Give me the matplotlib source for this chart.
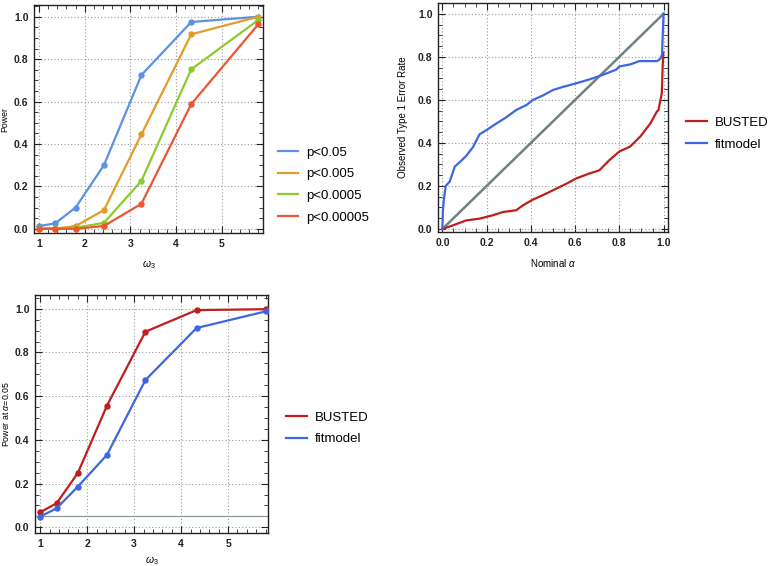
import matplotlib
matplotlib.use("Agg")
import matplotlib.pyplot as plt
from matplotlib.ticker import MultipleLocator
from matplotlib.lines import Line2D

plt.rcParams['font.family'] = ['Liberation Sans', 'DejaVu Sans']
plt.rcParams['mathtext.fontset'] = 'custom'
plt.rcParams['mathtext.it'] = 'Liberation Sans:italic'
plt.rcParams['mathtext.rm'] = 'Liberation Sans'

# ---------------- data ----------------
omega = [1.0, 1.35, 1.8, 2.42, 3.24, 4.33, 5.8]
omega_ticks = [1, 2, 3, 4, 5]
unit_ticks = [0.0, 0.2, 0.4, 0.6, 0.8, 1.0]

power_labels = ["p<0.05", "p<0.005", "p<0.0005", "p<0.00005"]
power_p05 = [0.013, 0.025, 0.10, 0.30, 0.725, 0.975, 1.0]
power_p005 = [0.0, 0.0, 0.013, 0.088, 0.445, 0.917, 1.0]
power_p0005 = [0.0, 0.003, 0.005, 0.028, 0.226, 0.752, 0.985]
power_p00005 = [0.0, 0.0, 0.0, 0.013, 0.118, 0.588, 0.965]

alpha_fit = [0.0, 0.002, 0.006, 0.015, 0.033, 0.056, 0.078, 0.108, 0.138, 0.168,
             0.2, 0.244, 0.29, 0.334, 0.38, 0.41, 0.454, 0.5, 0.545, 0.605,
             0.665, 0.725, 0.785, 0.8, 0.85, 0.89, 0.93, 0.97, 0.985, 0.993, 1.0]
obs_fit = [0.0, 0.08, 0.13, 0.20, 0.22, 0.29, 0.31, 0.34, 0.38, 0.44,
           0.46, 0.49, 0.52, 0.553, 0.576, 0.60, 0.62, 0.646, 0.66, 0.677,
           0.695, 0.716, 0.74, 0.755, 0.765, 0.78, 0.78, 0.78, 0.79, 0.81, 1.0]

alpha_busted = [0.0, 0.048, 0.108, 0.168, 0.229, 0.274, 0.334, 0.364, 0.41, 0.454,
                0.5, 0.56, 0.605, 0.665, 0.71, 0.755, 0.8, 0.849, 0.895, 0.94,
                0.97, 0.977, 0.992, 0.996, 0.999]
obs_busted = [0.0, 0.017, 0.04, 0.048, 0.064, 0.079, 0.087, 0.11, 0.137, 0.157,
              0.18, 0.21, 0.235, 0.258, 0.273, 0.32, 0.36, 0.383, 0.43, 0.49,
              0.546, 0.553, 0.63, 0.755, 0.82]

power_busted = [0.069, 0.11, 0.248, 0.556, 0.895, 0.994, 0.998]
power_fit = [0.049, 0.087, 0.186, 0.331, 0.674, 0.912, 0.988]
alpha_level = 0.05

# ---------------- style ----------------
c_blue = '#5B92E3'
c_orange = '#E39B2A'
c_green = '#8BCB2E'
c_red = '#EC5633'
c_dred = '#C01D1D'
c_dblue = '#3D66E3'
c_gray = '#6F8282'
grid_kw = dict(color='#9a9a9a', linestyle=(0, (1, 2)), linewidth=0.8)
tick_fs = 7.5
lab_fs = 7
leg_fs = 9.5

fig = plt.figure(figsize=(7.8, 5.66), dpi=100)


def style_axes(ax, xticks, xlabels, xmin, yticks, ylabels, ymin):
    ax.set_xticks(xticks, xlabels, fontweight='bold', fontsize=tick_fs)
    ax.set_yticks(yticks, ylabels, fontweight='bold', fontsize=tick_fs)
    ax.xaxis.set_minor_locator(MultipleLocator(xmin))
    ax.yaxis.set_minor_locator(MultipleLocator(ymin))
    ax.tick_params(which='both', direction='in', top=True, right=True,
                   colors='#222222', pad=4)
    ax.tick_params(which='major', length=5, width=0.8)
    ax.tick_params(which='minor', length=3, width=0.6)
    for s in ax.spines.values():
        s.set_linewidth(1.0)
        s.set_color('#222222')
    ax.grid(True, which='major', **grid_kw)
    ax.set_axisbelow(True)


ulabels = ['%.1f' % v for v in unit_ticks]
olabels = ['%d' % v for v in omega_ticks]

# ---- top-left ----
ax1 = fig.add_axes([0.0436, 0.5883, 0.2936, 0.4028])
series = [power_p05, power_p005, power_p0005, power_p00005]
cols = [c_blue, c_orange, c_green, c_red]
for vals, c in zip(series, cols):
    ax1.plot(omega, vals, color=c, lw=1.6, marker='o', ms=3.6, zorder=3)
style_axes(ax1, omega_ticks, olabels, 0.2, unit_ticks, ulabels, 0.05)
ax1.set_xlim(0.89, 5.9)
ax1.set_ylim(-0.02, 1.055)
ax1.set_ylabel('Power', fontsize=6.3, labelpad=3)
ax1.set_xlabel(r'$\omega_3$', fontsize=lab_fs + 0.5, labelpad=7)
h1 = [Line2D([], [], color=c, lw=1.6) for c in cols]
ax1.legend(h1, power_labels, loc='center left', bbox_to_anchor=(0.357, 0.673),
           bbox_transform=fig.transFigure, frameon=False, fontsize=leg_fs,
           handlelength=1.5, handletextpad=0.6, labelspacing=0.72,
           borderpad=0, borderaxespad=0)

# ---- top-right ----
ax2 = fig.add_axes([0.5615, 0.5901, 0.2949, 0.4046])
ax2.plot([0, 1], [0, 1], color=c_gray, lw=1.8, zorder=2)
ax2.plot(alpha_busted, obs_busted, color=c_dred, lw=1.6, zorder=3)
ax2.plot(alpha_fit, obs_fit, color=c_dblue, lw=1.6, zorder=3)
style_axes(ax2, unit_ticks, ulabels, 0.05, unit_ticks, ulabels, 0.05)
ax2.set_xlim(-0.02, 1.02)
ax2.set_ylim(-0.014, 1.05)
ax2.set_ylabel('Observed Type 1 Error Rate', fontsize=lab_fs, labelpad=7)
ax2.set_xlabel(r'Nominal $\alpha$', fontsize=lab_fs, labelpad=7)
h2 = [Line2D([], [], color=c_dred, lw=1.6), Line2D([], [], color=c_dblue, lw=1.6)]
ax2.legend(h2, ['BUSTED', 'fitmodel'], loc='center left', bbox_to_anchor=(0.879, 0.764),
           bbox_transform=fig.transFigure, frameon=False, fontsize=leg_fs,
           handlelength=1.6, handletextpad=0.6, labelspacing=0.72,
           borderpad=0, borderaxespad=0)

# ---- bottom-left ----
ax3 = fig.add_axes([0.0449, 0.0583, 0.2987, 0.4205])
ax3.axhline(alpha_level, color='#8a9a9a', lw=0.9, zorder=2)
ax3.plot(omega, power_busted, color=c_dred, lw=1.6, marker='o', ms=3.6, zorder=3)
ax3.plot(omega, power_fit, color=c_dblue, lw=1.6, marker='o', ms=3.6, zorder=3)
style_axes(ax3, omega_ticks, olabels, 0.2, unit_ticks, ulabels, 0.05)
ax3.set_xlim(0.89, 5.85)
ax3.set_ylim(-0.026, 1.063)
ax3.set_ylabel(r'Power at $\alpha$=0.05', fontsize=6.3, labelpad=3)
ax3.set_xlabel(r'$\omega_3$', fontsize=lab_fs + 0.5, labelpad=4)
h3 = [Line2D([], [], color=c_dred, lw=1.6), Line2D([], [], color=c_dblue, lw=1.6)]
ax3.legend(h3, ['BUSTED', 'fitmodel'], loc='center left', bbox_to_anchor=(0.367, 0.243),
           bbox_transform=fig.transFigure, frameon=False, fontsize=leg_fs,
           handlelength=1.6, handletextpad=0.6, labelspacing=0.72,
           borderpad=0, borderaxespad=0)

fig.savefig('out.png', dpi=100)
